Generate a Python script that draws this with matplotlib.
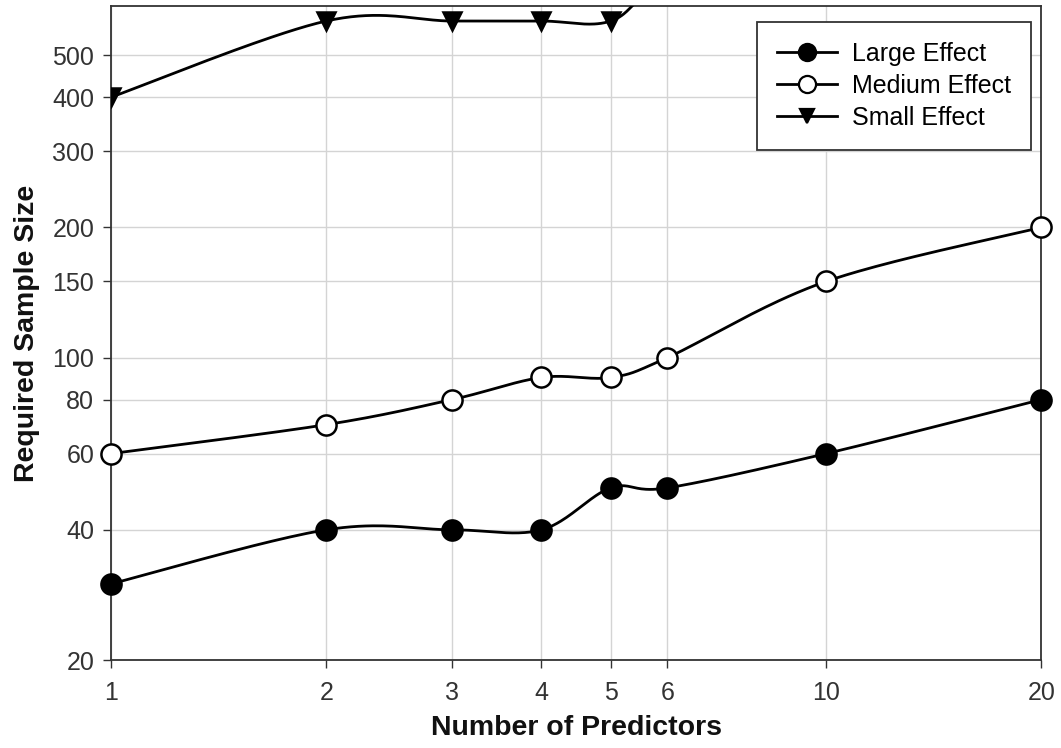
import numpy as np
import matplotlib
matplotlib.use("Agg")
import matplotlib.pyplot as plt
from matplotlib.ticker import FixedLocator, FixedFormatter, NullLocator

plt.rcParams["font.family"] = ["Liberation Sans", "DejaVu Sans"]

# data
predictors = [1, 2, 3, 4, 5, 6, 10, 20]
large_effect = [30, 40, 40, 40, 50, 50, 60, 80]
medium_effect = [60, 70, 80, 90, 90, 100, 150, 200]
small_effect = [400, 600, 600, 600, 600, 750, 1100, 1500]   # 6..20 run off the top

x_ticks = [1, 2, 3, 4, 5, 6, 10, 20]
y_ticks = [20, 40, 60, 80, 100, 150, 200, 300, 400, 500]


def smooth(xs, ys, n=40):
    # Excel-style smoothed line: cubic Bezier through the points,
    # built in log space (which is screen space on log-log axes)
    P = np.column_stack([np.log10(xs), np.log10(ys)])
    out = [P[0]]
    for i in range(len(P) - 1):
        p0 = P[i - 1] if i > 0 else P[i]
        p1, p2 = P[i], P[i + 1]
        p3 = P[i + 2] if i + 2 < len(P) else P[i + 1]
        c1 = p1 + (p2 - p0) / 6
        c2 = p2 - (p3 - p1) / 6
        t = np.linspace(0, 1, n)[1:, None]
        seg = ((1 - t) ** 3) * p1 + 3 * ((1 - t) ** 2) * t * c1 \
            + 3 * (1 - t) * t ** 2 * c2 + t ** 3 * p2
        out.extend(seg)
    out = np.array(out)
    return 10 ** out[:, 0], 10 ** out[:, 1]


fig = plt.figure(figsize=(10.61, 7.48), dpi=100)
ax = fig.add_axes([0.1046, 0.1176, 0.8768, 0.8744])
ax.set_xscale("log")
ax.set_yscale("log")

series = [
    ("Large Effect", large_effect, dict(marker="o", mfc="black", ms=14.5)),
    ("Medium Effect", medium_effect, dict(marker="o", mfc="white", ms=14.5)),
    ("Small Effect", small_effect, dict(marker="v", mfc="black", ms=12.5)),
]
for name, vals, mk in series:
    sx, sy = smooth(predictors, vals)
    ax.plot(sx, sy, color="black", lw=2.0, zorder=3)
    ax.plot(predictors, vals, linestyle="none", mec="black", mew=1.8,
            zorder=4, clip_on=(name == "Small Effect"), **mk)
    # legend handle
    ax.plot([], [], color="black", lw=2.0, mec="black", mew=1.6, label=name, **mk)

ax.set_xlim(1, 20)
ax.set_ylim(20, 650)

ax.xaxis.set_major_locator(FixedLocator(x_ticks))
ax.xaxis.set_major_formatter(FixedFormatter([str(v) for v in x_ticks]))
ax.xaxis.set_minor_locator(NullLocator())
ax.yaxis.set_major_locator(FixedLocator(y_ticks))
ax.yaxis.set_major_formatter(FixedFormatter([str(v) for v in y_ticks]))
ax.yaxis.set_minor_locator(NullLocator())

ax.grid(True, color="#d4d4d4", lw=1.0)
ax.set_axisbelow(True)
ax.tick_params(axis="both", direction="out", length=6, width=1.0,
               labelsize=18, colors="#333333")
ax.tick_params(axis="x", pad=9)
ax.tick_params(axis="y", pad=6)
for s in ax.spines.values():
    s.set_color("#333333")
    s.set_linewidth(1.3)

ax.set_xlabel("Number of Predictors", fontsize=20.5, fontweight="bold",
              labelpad=7, color="#111111")
ax.set_ylabel("Required Sample Size", fontsize=20.5, fontweight="bold",
              labelpad=9, color="#111111")

leg = ax.legend(loc="upper right", bbox_to_anchor=(0.989, 0.9755),
                borderaxespad=0, fontsize=18, markerscale=0.85,
                frameon=True, fancybox=False, edgecolor="#333333",
                framealpha=1, handlelength=2.4, borderpad=0.8,
                labelspacing=0.32, handletextpad=0.6)
leg.get_frame().set_linewidth(1.3)

fig.savefig("out.png", dpi=100, facecolor="white")
